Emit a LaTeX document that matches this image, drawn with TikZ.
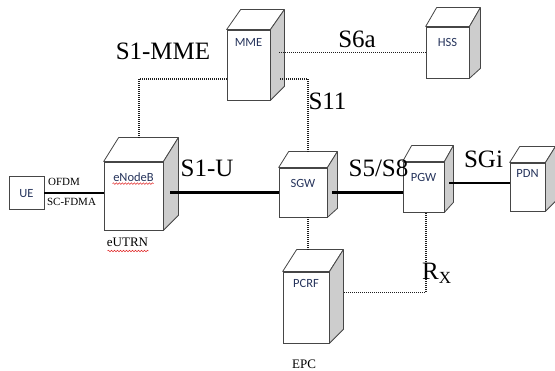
\documentclass[tikz,border=0pt]{standalone}
\usepackage{xcolor}
\usepackage{fontspec}
\setmainfont{Liberation Serif}
\newfontfamily\boxfont{Carlito}
\usepackage{tikz}
\usetikzlibrary{positioning,calc,decorations.pathmorphing}
\definecolor{boxtxt}{RGB}{38,52,92}
\definecolor{sidegray}{RGB}{205,205,205}
\definecolor{edgeclr}{RGB}{70,70,70}
\definecolor{linkclr}{RGB}{30,30,30}
\definecolor{spellred}{RGB}{225,40,40}

\begin{document}
\begin{tikzpicture}[x=1pt,y=-1pt,
  front/.style={draw=edgeclr, fill=white, line width=0.8pt, inner sep=0pt,
                font=\boxfont\fontsize{12.5}{14}\selectfont, text=boxtxt},
  cubetop/.style={draw=edgeclr, fill=white, line width=0.8pt, line join=round},
  cubeside/.style={draw=edgeclr, fill=sidegray, line width=0.8pt, line join=round},
  userlink/.style={draw=black, line width=2.4pt},
  ctrllink/.style={draw=linkclr, line width=1.2pt, dash pattern=on 1pt off 1pt},
  biglbl/.style={font=\fontsize{25}{25}\selectfont, inner sep=0pt, anchor=base},
  smalllbl/.style={font=\fontsize{12}{12}\selectfont, inner sep=0pt, anchor=base},
  squiggle/.style={draw=spellred, line width=0.5pt,
                   decorate, decoration={snake, amplitude=0.8pt, segment length=3pt}}]
  \useasboundingbox (0,0) rectangle (555,371);

  % front faces
  \node[front, minimum width=35pt, minimum height=33pt, text height=21pt, text depth=12pt]
    (ue) at (26.5,193) {UE};
  \node[front, minimum width=59pt, minimum height=68pt, text height=20pt, text depth=48pt]
    (enb) at (133.5,196) {eNodeB};
  \node[front, minimum width=43pt, minimum height=70pt, text height=17pt, text depth=53pt]
    (mme) at (248.5,65) {MME};
  \node[front, minimum width=43pt, minimum height=51pt, text height=20pt, text depth=31pt]
    (hss) at (447.5,52.5) {HSS};
  \node[front, minimum width=48pt, minimum height=49pt, text height=20pt, text depth=29pt]
    (sgw) at (303,192.5) {SGW};
  \node[front, minimum width=41pt, minimum height=50pt, text height=20pt, text depth=30pt]
    (pgw) at (423.5,187) {PGW};
  \node[front, minimum width=35pt, minimum height=48pt, text height=15pt, text depth=33pt]
    (pdn) at (527.5,187) {PDN};
  \node[front, minimum width=46pt, minimum height=71pt, text height=16pt, text depth=55pt]
    (pcrf) at (306,307.5) {PCRF};

  % top and side faces
  \foreach \n/\dx/\dt/\db in {enb/15/24/15, mme/14/20/14, hss/11/19/10, sgw/10/16/9,
                               pgw/9/16/10, pdn/10/16/10, pcrf/14/22/14} {
    \filldraw[cubetop] (\n.north west) -- ++(\dx,-\dt) -- ($(\n.north east)+(\dx,-\dt)$)
      -- (\n.north east) -- cycle;
    \filldraw[cubeside] (\n.north east) -- ++(\dx,-\dt) -- ($(\n.south east)+(\dx,-\db)$)
      -- (\n.south east) -- cycle;
  }

  % points on the side and top faces
  \coordinate (enb-side) at ($(enb.east)+(7,0)$);
  \coordinate (enb-top) at ($(enb.north)+(5.5,-24)$);
  \coordinate (mme-side) at ($(mme.east)+(9,0)$);
  \coordinate (sgw-top) at ($(sgw.north)+(5,-16)$);
  \coordinate (pcrf-top) at ($(pcrf.north)+(2,-22)$);

  % user plane
  \draw[userlink] (ue.east) -- (ue.east -| enb.west);
  \draw[userlink] (enb-side |- sgw.west) -- (sgw.west);
  \draw[userlink] ($(sgw.east)+(5,0)$) -- (sgw.east -| pgw.west);
  \draw[userlink] ($(pgw.east)+(5,-4)$) -- ($(pdn.west)+(0,-4)$);

  % control plane
  \draw[ctrllink] ($(mme.west)+(0,14)$) -| (enb-top);
  \draw[ctrllink] (mme-side |- hss.west) -- (hss.west);
  \draw[ctrllink] ($(mme.east)+(10,14)$) -| (sgw-top);
  \draw[ctrllink] ($(sgw.south)+(5,0)$) -- (pcrf-top);
  \draw[ctrllink] ($(pcrf.east)+(15,-15)$) -| ($(pgw.south)+(2.5,0)$);

  % interface labels
  \node[biglbl] (s1mme) at (163,60) {S1-MME};
  \node[biglbl] (s6a) at (357,48) {S6a};
  \node[biglbl] (s11) at (327.5,110) {S11};
  \node[biglbl] (s1u) at (207,177) {S1-U};
  \node[biglbl] (s5s8) at (378.5,177) {S5/S8};
  \node[biglbl] (sgi) at (483.5,168) {SGi};
  \node[biglbl, anchor=base west] (rx) at (422,280)
    {R\raisebox{-4pt}{\fontsize{17}{17}\selectfont X}};
  \node[smalllbl, font=\fontsize{11}{11}\selectfont] (ofdm) at (64,186) {OFDM};
  \node[smalllbl, font=\fontsize{11}{11}\selectfont] (scfdma) at (71.5,206) {SC-FDMA};
  \node[smalllbl, font=\fontsize{13}{13}\selectfont] (eutrn) at (127.5,247) {eUTRN};
  \node[smalllbl, font=\fontsize{13}{13}\selectfont] (epc) at (304,369) {EPC};

  % spelling marks
  \draw[squiggle] ($(enb.north)+(-21,22)$) -- ++(41,0);
  \draw[squiggle] ($(eutrn.base)+(-20,4)$) -- ++(41,0);
\end{tikzpicture}
\end{document}
